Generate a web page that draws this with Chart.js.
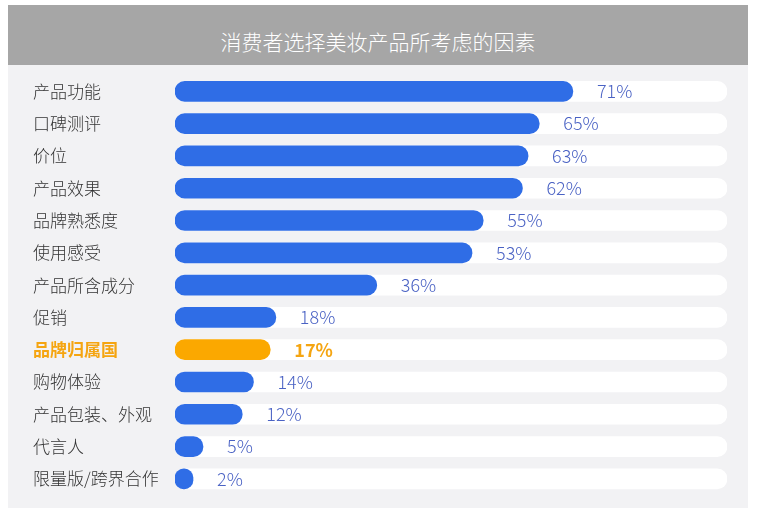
<!DOCTYPE html>
<html><head><meta charset="utf-8">
<script src="https://cdn.jsdelivr.net/npm/chart.js@4"></script>
<style>
body{margin:0;background:#fff;font-family:"Noto Sans CJK SC";}
#hd{position:absolute;left:8px;top:5px;width:740px;height:60px;background:#a6a6a6;color:#fff;font-size:21px;font-weight:300;text-align:center;line-height:72px;}
#pn{position:absolute;left:8px;top:65px;width:740px;height:443px;background:#f2f2f4;}
</style></head><body>
<div id="hd">消费者选择美妆产品所考虑的因素</div>
<div id="pn"><canvas id="c" width="740" height="443"></canvas></div>
<script>
const categories=["产品功能","口碑测评","价位","产品效果","品牌熟悉度","使用感受","产品所含成分","促销","品牌归属国","购物体验","产品包装、外观","代言人","限量版/跨界合作"];
const values=[71,65,63,62,55,53,36,18,17,14,12,5,2];
const highlight="品牌归属国";
const trackMax=98.5;
const font="Noto Sans CJK SC";
const isHi=i=>categories[i]===highlight;
const labelPlugin={id:'lbl',afterDatasetsDraw(ch){
  const ctx=ch.ctx,meta=ch.getDatasetMeta(1);
  meta.data.forEach((b,i)=>{
    ctx.save();
    ctx.font=(isHi(i)?'bold ':'300 ')+'18px "'+font+'"';
    ctx.fillStyle=isHi(i)?'#f5a511':'#4a62c4';
    ctx.textBaseline='middle';
    ctx.fillText(values[i]+'%',b.x+24,b.y);
    ctx.restore();
  });
}};
new Chart(document.getElementById('c'),{
  type:'bar',
  data:{labels:categories,datasets:[
    {data:categories.map(()=>trackMax),backgroundColor:'#ffffff',borderRadius:10,borderSkipped:false,barThickness:20,grouped:false,order:2},
    {data:values,backgroundColor:values.map((v,i)=>isHi(i)?'#fba800':'#2f6de6'),borderRadius:10,borderSkipped:false,barThickness:20,minBarLength:18,grouped:false,order:1}
  ]},
  options:{indexAxis:'y',responsive:false,animation:false,
    layout:{padding:{left:25,right:21,top:8,bottom:13}},
    plugins:{legend:{display:false},tooltip:{enabled:false}},
    scales:{
      x:{min:0,max:trackMax,display:false},
      y:{grid:{display:false},border:{display:false},
        afterFit(s){s.width=142;},
        ticks:{crossAlign:'far',padding:0,color:c=>isHi(c.index)?'#f5a511':'#333',
          font:c=>({family:font,size:17,weight:isHi(c.index)?'bold':'300'})}}
    }},
  plugins:[labelPlugin]
});
</script></body></html>
